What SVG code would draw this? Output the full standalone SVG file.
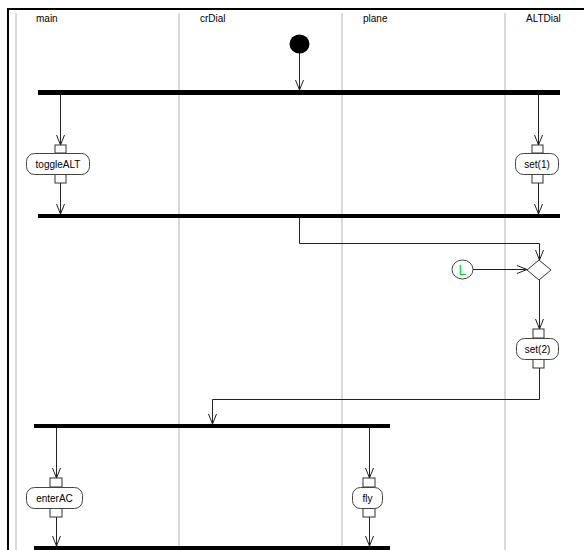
<svg xmlns="http://www.w3.org/2000/svg" width="584" height="550" viewBox="0 0 584 550">
<style>
.lane{stroke:#dadada;stroke-width:2;fill:none}
.lbl{font-family:"Liberation Sans",Arial,sans-serif;font-size:10px;fill:#000}
.bar{fill:#000}
.act{fill:#fff;stroke:#444;stroke-width:1}
.pin{fill:#fff;stroke:#333;stroke-width:1}
.atxt{font-family:"Liberation Sans",Arial,sans-serif;font-size:10px;fill:#000;text-anchor:middle}
.edge{stroke:#222;stroke-width:1;fill:none}
</style>
<defs>
<marker id="arr" viewBox="0 0 10 10" refX="10" refY="5" markerWidth="10" markerHeight="10" markerUnits="userSpaceOnUse" orient="auto">
<path d="M0,1 L10,5 L0,9" fill="none" stroke="#222" stroke-width="1"/>
</marker>
</defs>
<rect x="0" y="0" width="584" height="550" fill="#fff"/>
<g id="frame">
<line x1="7" y1="9" x2="584" y2="9" stroke="#000" stroke-width="2"/>
<line x1="8" y1="8" x2="8" y2="550" stroke="#000" stroke-width="2"/>
</g>
<g id="lanes">
<line class="lane" x1="16" y1="13" x2="16" y2="550"/>
<line class="lane" x1="179" y1="13" x2="179" y2="550"/>
<line class="lane" x1="342" y1="13" x2="342" y2="550"/>
<line class="lane" x1="505" y1="13" x2="505" y2="550"/>
<text class="lbl" x="36" y="22">main</text>
<text class="lbl" x="200" y="22">crDial</text>
<text class="lbl" x="363" y="22">plane</text>
<text class="lbl" x="526" y="22">ALTDial</text>
</g>
<g id="start"><ellipse cx="299.5" cy="44" rx="10" ry="9.5" fill="#000"/></g>
<g id="fork1"><rect class="bar" x="38" y="90" width="522" height="5"/></g>
<g id="join1"><rect class="bar" x="38" y="214" width="522" height="4"/></g>
<g id="fork2"><rect class="bar" x="34" y="424" width="356" height="4"/></g>
<g id="join2"><rect class="bar" x="34" y="546" width="356" height="4"/></g>
<g id="toggleALT">
<rect class="pin" x="55" y="145" width="11" height="8"/>
<rect class="pin" x="55" y="174" width="11" height="9"/>
<rect class="act" x="26.5" y="153.5" width="63" height="21" rx="8"/>
<text class="atxt" x="58" y="168">toggleALT</text>
</g>
<g id="set1">
<rect class="pin" x="532" y="145" width="11" height="8"/>
<rect class="pin" x="532" y="174" width="11" height="9"/>
<rect class="act" x="515.5" y="153.5" width="43" height="21" rx="8"/>
<text class="atxt" x="537" y="168">set(1)</text>
</g>
<g id="merge"><path d="M539,260 L551,270 L539,280 L527,270 Z" fill="#fff" stroke="#333" stroke-width="1"/></g>
<g id="L">
<ellipse cx="462.5" cy="269.5" rx="10.5" ry="9.5" fill="#fff" stroke="#444" stroke-width="1"/>
<text x="462.5" y="275" font-family="Liberation Sans,Arial,sans-serif" font-size="14" fill="#00e000" text-anchor="middle">L</text>
</g>
<g id="set2">
<rect class="pin" x="533" y="329" width="11" height="9"/>
<rect class="pin" x="533" y="359" width="11" height="9"/>
<rect class="act" x="516.5" y="338.5" width="42" height="21" rx="8"/>
<text class="atxt" x="537.5" y="353">set(2)</text>
</g>
<g id="enterAC">
<rect class="pin" x="50" y="478" width="12" height="9"/>
<rect class="pin" x="50" y="508" width="12" height="9"/>
<rect class="act" x="26.5" y="487.5" width="56" height="21" rx="8"/>
<text class="atxt" x="54.5" y="502">enterAC</text>
</g>
<g id="fly">
<rect class="pin" x="363" y="478" width="12" height="9"/>
<rect class="pin" x="363" y="508" width="12" height="9"/>
<rect class="act" x="352.5" y="487.5" width="30" height="21" rx="8"/>
<text class="atxt" x="367.5" y="502">fly</text>
</g>
<g id="connectors">
<path class="edge" d="M299.5,53 L299.5,90" marker-end="url(#arr)"/>
<path class="edge" d="M60.5,95 L60.5,145" marker-end="url(#arr)"/>
<path class="edge" d="M538.5,95 L538.5,145" marker-end="url(#arr)"/>
<path class="edge" d="M60.5,183 L60.5,214" marker-end="url(#arr)"/>
<path class="edge" d="M538.5,183 L538.5,214" marker-end="url(#arr)"/>
<path class="edge" d="M299.5,218 L299.5,243.5 L539.5,243.5 L539.5,260" marker-end="url(#arr)"/>
<path class="edge" d="M473,269.5 L527,269.5" marker-end="url(#arr)"/>
<path class="edge" d="M539.5,280 L539.5,329" marker-end="url(#arr)"/>
<path class="edge" d="M539.5,368 L539.5,399.5 L212.5,399.5 L212.5,424" marker-end="url(#arr)"/>
<path class="edge" d="M56.5,428 L56.5,478" marker-end="url(#arr)"/>
<path class="edge" d="M369.5,428 L369.5,478" marker-end="url(#arr)"/>
<path class="edge" d="M56.5,517 L56.5,546" marker-end="url(#arr)"/>
<path class="edge" d="M369.5,517 L369.5,546" marker-end="url(#arr)"/>
</g>
</svg>
